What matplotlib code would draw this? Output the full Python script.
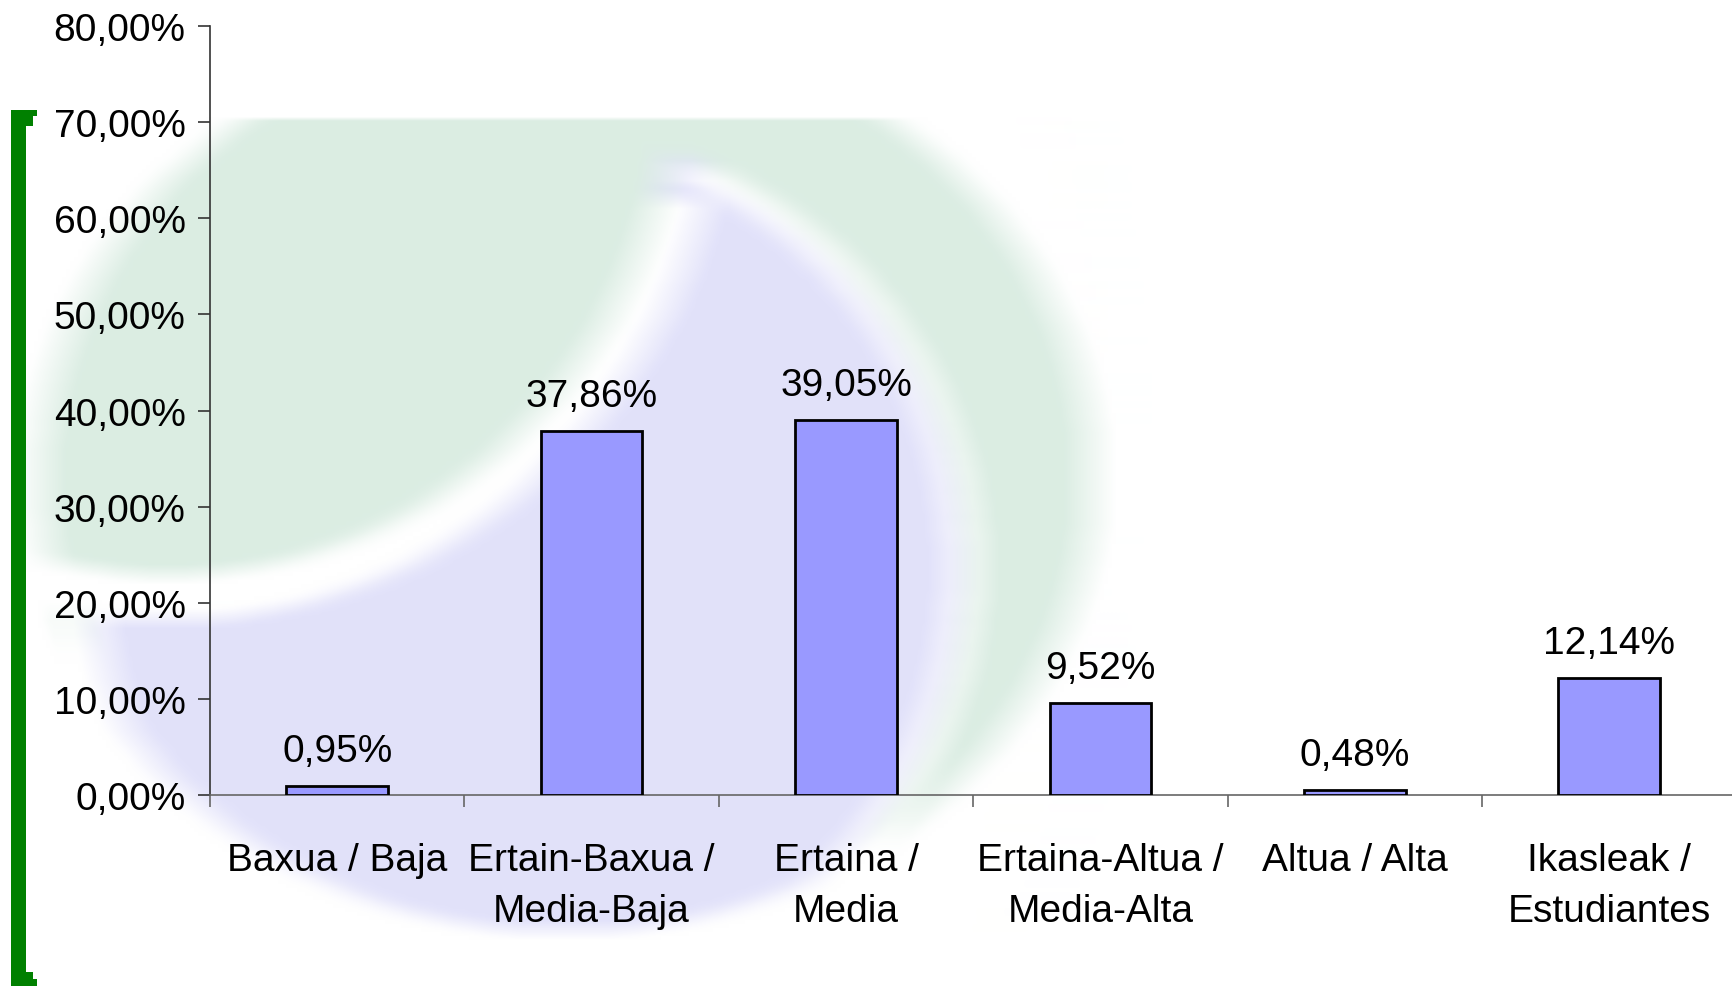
import numpy as np
import matplotlib.pyplot as plt
from matplotlib.patches import Rectangle

categories = ['Baxua / Baja', 'Ertain-Baxua /\nMedia-Baja', 'Ertaina /\nMedia',
              'Ertaina-Altua /\nMedia-Alta', 'Altua / Alta', 'Ikasleak /\nEstudiantes']
values = [0.95, 37.86, 39.05, 9.52, 0.48, 12.14]
yticks = [0, 10, 20, 30, 40, 50, 60, 70, 80]

plt.rcParams['font.family'] = ['Liberation Sans', 'DejaVu Sans']

W, H = 1733, 987
fig = plt.figure(figsize=(W / 100, H / 100), dpi=100)

# pale globe watermark behind the chart
s = 4
yy, xx = np.mgrid[0:H:s, 0:W:s].astype(float) + s / 2
globe = ((xx - 567) / 527) ** 2 + ((yy - 480) / 454) ** 2 < 1
cap = np.hypot(xx - 169, yy - 69) / 507
inner = ((xx - 525) / 430) ** 2 + ((yy - 570) / 420) ** 2
green = np.array([0.86, 0.93, 0.89])
lav = np.array([0.885, 0.885, 0.98])
img = np.ones(xx.shape + (3,))
img[globe] = lav
img[globe & (inner >= 1.1)] = green
img[globe & (inner >= 1) & (inner < 1.1) & (yy > 170)] = 1
img[globe & (cap >= 1) & (cap < 1.09) & (yy > 200)] = 1
img[globe & (cap < 1)] = green


def box_blur(a, kx, ky):
    py, px = ky // 2, kx // 2
    a = np.pad(a, ((py, py), (px, px), (0, 0)), mode='edge')
    c = np.cumsum(a, axis=0)
    c = np.concatenate([np.zeros((1,) + c.shape[1:]), c], axis=0)
    a = (c[ky:] - c[:-ky]) / ky
    c = np.cumsum(a, axis=1)
    c = np.concatenate([np.zeros((c.shape[0], 1, 3)), c], axis=1)
    a = (c[:, kx:] - c[:, :-kx]) / kx
    return a


img = box_blur(img, 13, 5)
img[yy < 120] = 1

ax_bg = fig.add_axes([0, 0, 1, 1], zorder=0)
ax_bg.imshow(img, extent=(0, W, H, 0), interpolation='bilinear', aspect='auto')
ax_bg.set_xlim(0, W)
ax_bg.set_ylim(H, 0)
ax_bg.axis('off')

# green bracket on the left
def px_rect(x0, y0, x1, y1):
    return Rectangle((x0 / W, 1 - y1 / H), (x1 - x0) / W, (y1 - y0) / H,
                     transform=fig.transFigure, color='#008000', lw=0, zorder=2)

for r in [(11, 111, 26, 987), (11, 111, 37, 117), (11, 117, 33, 127),
          (11, 980, 37, 987), (11, 973, 33, 980)]:
    fig.add_artist(px_rect(*r))

# main chart
ax = fig.add_axes([210 / W, 1 - 796 / H, 6 * 254.4 / W, (796 - 27) / H], zorder=1)
ax.patch.set_alpha(0)

x = np.arange(len(values))
ax.bar(x, values, width=0.4, color='#9999ff', edgecolor='black', linewidth=2, zorder=3)
for xi, v in zip(x, values):
    ax.annotate(f'{v:.2f}%'.replace('.', ','), (xi, v), xytext=(0, 18),
                textcoords='offset points', ha='center', va='baseline', fontsize=28)

ax.set_xlim(-0.5, len(values) - 0.5)
ax.set_ylim(0, 80)
ax.set_yticks(yticks)
ax.set_yticklabels([f'{t:.2f}%'.replace('.', ',') for t in yticks], fontsize=28)
ax.set_xticks(x)
ax.set_xticklabels(categories, fontsize=28, linespacing=1.54)
ax.set_xticks(np.arange(-0.5, len(values)), minor=True)

ax.tick_params(axis='y', length=8.6, width=1.2, color='#333333', pad=9)
ax.tick_params(axis='x', which='major', length=0, pad=34)
ax.tick_params(axis='x', which='minor', length=8.6, width=1.2, color='#666666')

ax.spines['top'].set_visible(False)
ax.spines['right'].set_visible(False)
ax.spines['left'].set_color('#333333')
ax.spines['left'].set_linewidth(1.2)
ax.spines['bottom'].set_color('#666666')
ax.spines['bottom'].set_linewidth(1.2)

plt.savefig('out.png', dpi=100)
